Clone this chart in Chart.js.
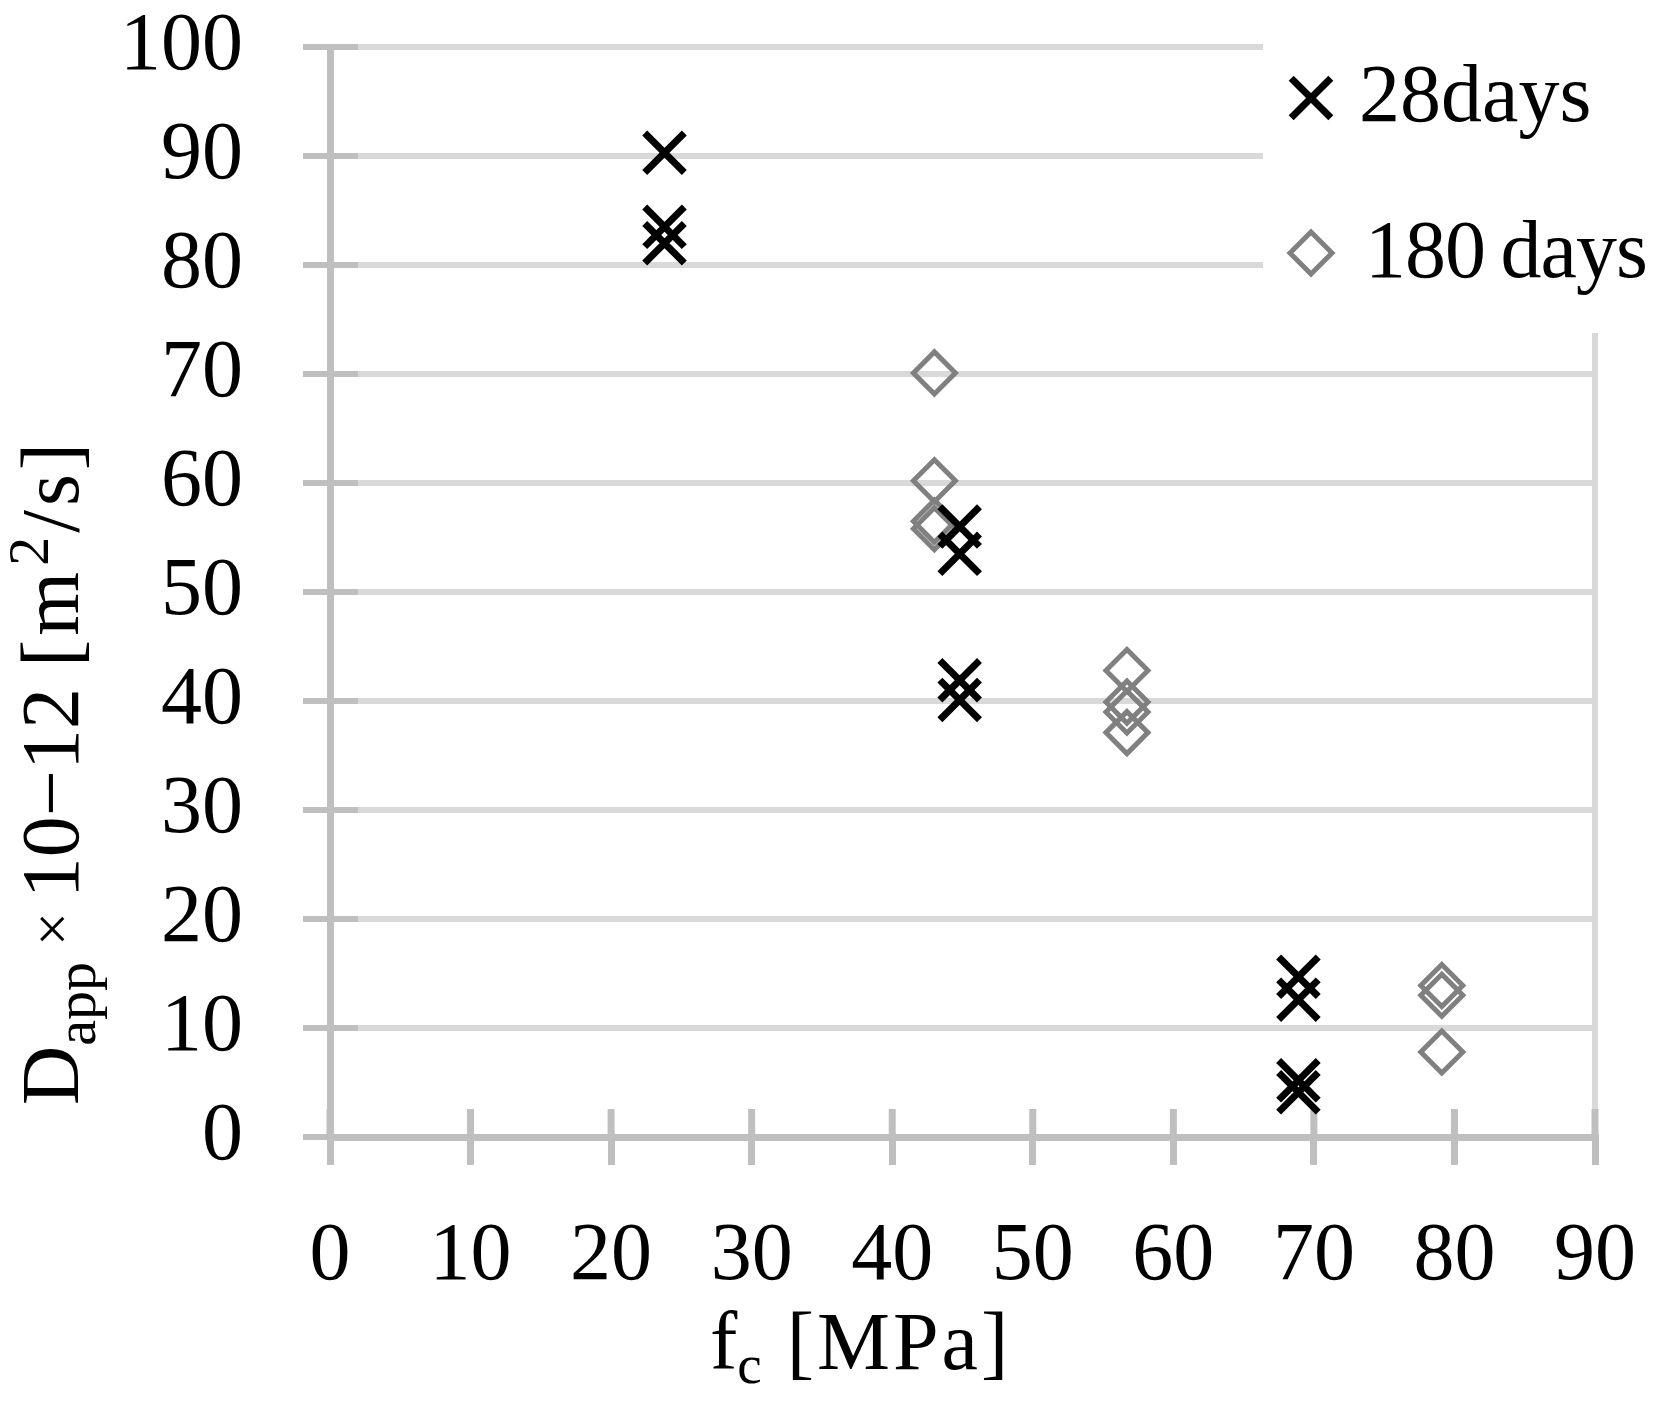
<!DOCTYPE html>
<html>
<head>
<meta charset="utf-8">
<script src="https://cdn.jsdelivr.net/npm/chart.js@4.4.1/dist/chart.umd.min.js"></script>
<style>
  html, body { margin: 0; padding: 0; background: #fff; }
  #wrap { width: 1659px; height: 1404px; }
</style>
</head>
<body>
<div id="wrap"><canvas id="chart" width="1659" height="1404"></canvas></div>
<script>
/* ===== Dapp vs fc scatter ===== */

const seriesNames = ['28days', '180 days'];

// 28 days
const fc28   = [23.8, 23.8, 23.8, 44.8, 44.8, 44.8, 44.8, 68.9, 68.9, 68.9, 68.9];
const dapp28 = [90.3, 83.5, 82.0, 56.0, 53.5, 41.9, 40.1, 14.7, 12.6, 5.2, 4.1];

// 180 days
const fc180   = [43.0, 43.0, 43.0, 43.0, 56.7, 56.7, 56.7, 56.7, 79.1, 79.1, 79.1];
const dapp180 = [70.1, 60.2, 56.5, 55.8, 42.8, 39.9, 39.0, 37.1, 13.9, 13.0, 7.8];

const xMin = 0, xMax = 90, xStep = 10;
const yMin = 0, yMax = 100, yStep = 10;

const FONT = '"Liberation Serif", "Times New Roman", serif';
const GRID = '#d9d9d9';
const AXIS = '#bfbfbf';
const C28  = '#000000';
const C180 = '#808080';

const toPoints = (xs, ys) => xs.map((x, i) => ({x: x, y: ys[i]}));

const style28  = { pointStyle: 'crossRot', radius: 28, borderWidth: 7, color: C28 };
const style180 = { pointStyle: 'rectRot',  radius: 21, borderWidth: 5, color: C180 };

// inward tick marks + right border of plot area
const extraAxes = {
  id: 'extraAxes',
  beforeDatasetsDraw(chart) {
    const ctx = chart.ctx, a = chart.chartArea;
    const xs = chart.scales.x, ys = chart.scales.y;
    ctx.save();
    ctx.strokeStyle = GRID;
    ctx.lineWidth = 6;
    const xr = xs.getPixelForValue(xMax);
    ctx.beginPath(); ctx.moveTo(xr, a.top); ctx.lineTo(xr, a.bottom); ctx.stroke();
    ctx.strokeStyle = AXIS;
    ys.ticks.forEach(t => {
      const py = ys.getPixelForValue(t.value);
      ctx.beginPath(); ctx.moveTo(a.left, py); ctx.lineTo(a.left + 28, py); ctx.stroke();
    });
    ctx.lineWidth = 7;
    xs.ticks.forEach(t => {
      const px = xs.getPixelForValue(t.value);
      ctx.beginPath(); ctx.moveTo(px, a.bottom); ctx.lineTo(px, a.bottom - 28); ctx.stroke();
    });
    ctx.restore();
  }
};

function drawRich(ctx, parts, x, y) {
  let cx = x;
  parts.forEach(p => {
    ctx.font = p.size + 'px ' + FONT;
    ctx.letterSpacing = (p.ls || 0) + 'px';
    ctx.fillText(p.t, cx, y + (p.dy || 0));
    cx += ctx.measureText(p.t).width + (p.gap || 0);
  });
  ctx.letterSpacing = '0px';
}

function marker(ctx, st, x, y) {
  ctx.save();
  ctx.strokeStyle = st.color;
  ctx.fillStyle = 'rgba(0,0,0,0)';
  ctx.lineWidth = st.borderWidth;
  if (Chart.helpers && Chart.helpers.drawPoint) {
    Chart.helpers.drawPoint(ctx, {pointStyle: st.pointStyle, radius: st.radius, borderWidth: st.borderWidth, rotation: 0}, x, y);
  }
  ctx.restore();
}

// legend box (white, covers top-right) and axis titles
const annotations = {
  id: 'annotations',
  afterDraw(chart) {
    const ctx = chart.ctx;
    ctx.save();
    ctx.fillStyle = '#fff';
    ctx.fillRect(1263, 0, chart.width - 1263, 333);

    ctx.fillStyle = '#000';
    ctx.textAlign = 'left';
    ctx.textBaseline = 'alphabetic';
    marker(ctx, style28, 1311, 98);
    drawRich(ctx, [{t: seriesNames[0], size: 82}], 1359, 121);
    marker(ctx, style180, 1311, 253);
    ctx.wordSpacing = '-4px';
    drawRich(ctx, [{t: seriesNames[1], size: 82, ls: -1}], 1365, 277);
    ctx.wordSpacing = '0px';

    // x title
    drawRich(ctx, [
      {t: 'f', size: 82},
      {t: 'c', size: 55, dy: 14, gap: 25},
      {t: '[MPa]', size: 82, ls: 3}
    ], 710, 1369);

    // y title
    ctx.translate(78, 1105);
    ctx.rotate(-Math.PI / 2);
    drawRich(ctx, [
      {t: 'D', size: 82},
      {t: 'app', size: 58, dy: 17, gap: 16},
      {t: '\u00d7', size: 60, dy: -6, gap: 14},
      {t: '10\u221212', size: 82, gap: 21},
      {t: '[m', size: 82, ls: 4, gap: 2},
      {t: '2', size: 58, dy: -30, gap: 4},
      {t: '/s]', size: 82, ls: 4}
    ], 0, 0);
    ctx.restore();
  }
};

const ctx = document.getElementById('chart').getContext('2d');

new Chart(ctx, {
  type: 'scatter',
  data: {
    datasets: [
      {
        label: seriesNames[0],
        data: toPoints(fc28, dapp28),
        pointStyle: style28.pointStyle,
        pointRadius: style28.radius,
        pointBorderWidth: style28.borderWidth,
        pointBorderColor: style28.color,
        pointBackgroundColor: 'rgba(0,0,0,0)',
        showLine: false
      },
      {
        label: seriesNames[1],
        data: toPoints(fc180, dapp180),
        pointStyle: style180.pointStyle,
        pointRadius: style180.radius,
        pointBorderWidth: style180.borderWidth,
        pointBorderColor: style180.color,
        pointBackgroundColor: 'rgba(0,0,0,0)',
        showLine: false
      }
    ]
  },
  options: {
    responsive: false,
    animation: false,
    devicePixelRatio: 1,
    layout: { padding: { left: 0, top: 47, right: 64, bottom: 0 } },
    plugins: {
      legend: { display: false },
      tooltip: { enabled: false }
    },
    scales: {
      x: {
        type: 'linear',
        min: xMin, max: xMax,
        afterFit(scale) {
          scale.height = 267;
          scale.paddingLeft = 0;
          scale.paddingRight = 0;
        },
        ticks: {
          stepSize: xStep, autoSkip: false, maxRotation: 0,
          color: '#000', padding: 43,
          font: { family: FONT, size: 82, lineHeight: 1.2 }
        },
        grid: { drawOnChartArea: false, drawTicks: true, tickLength: 28, tickColor: AXIS, lineWidth: 7 },
        border: { color: AXIS, width: 7 }
      },
      y: {
        type: 'linear',
        min: yMin, max: yMax,
        afterFit(scale) {
          scale.width = 330;
          scale.paddingTop = 0;
          scale.paddingBottom = 0;
        },
        ticks: {
          stepSize: yStep, color: '#000', padding: 60,
          font: { family: FONT, size: 82, lineHeight: 1.0 }
        },
        grid: { color: GRID, lineWidth: 6, tickLength: 27, tickColor: AXIS },
        border: { color: AXIS, width: 7 }
      }
    }
  },
  plugins: [extraAxes, annotations]
});
</script>
</body>
</html>
